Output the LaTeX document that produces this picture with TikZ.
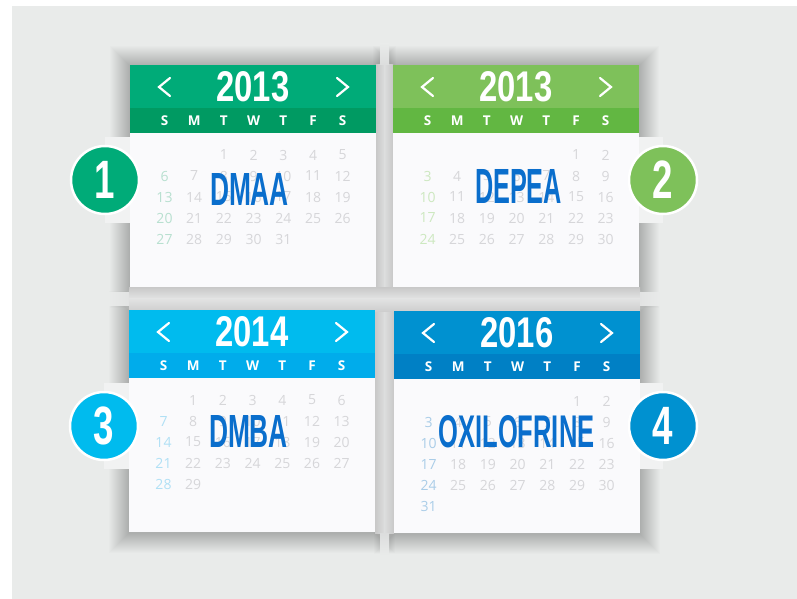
\documentclass[tikz,border=0pt]{standalone}
\usepackage{fontspec}
\usepackage{graphicx}
\setmainfont{Open Sans}
\newfontfamily\condfont{Liberation Sans}
\definecolor{bgc}{RGB}{233,235,234}
\definecolor{tabc}{RGB}{241,242,242}
\definecolor{bodyc}{RGB}{250,250,252}
\definecolor{numgray}{RGB}{214,214,217}
\definecolor{lblblue}{RGB}{10,110,204}
\definecolor{gEdge}{RGB}{200,200,200}
\definecolor{gEdgeB}{RGB}{206,206,206}
\definecolor{gMid}{RGB}{220,221,221}
\definecolor{gMidH}{RGB}{226,227,227}
\definecolor{hA}{RGB}{0,171,120}\definecolor{bA}{RGB}{0,154,98}\definecolor{wA}{RGB}{184,224,208}
\definecolor{hB}{RGB}{126,193,90}\definecolor{bB}{RGB}{98,183,66}\definecolor{wB}{RGB}{205,232,192}
\definecolor{hC}{RGB}{0,187,238}\definecolor{bC}{RGB}{0,172,235}\definecolor{wC}{RGB}{176,224,245}
\definecolor{hD}{RGB}{0,145,208}\definecolor{bD}{RGB}{0,128,197}\definecolor{wD}{RGB}{170,205,232}
\tikzset{
  yeartxt/.style={text=white,inner sep=0pt,font=\condfont\bfseries\fontsize{40}{40}\selectfont},
  chev/.style={draw=white,line width=2.2pt,line cap=round,line join=miter},
  dayname/.style={text=white,inner sep=0pt,font=\bfseries\fontsize{13.5}{14}\selectfont},
  num/.style={inner sep=0pt,font=\fontsize{14}{14}\selectfont},
  lbl/.style={text=lblblue,inner sep=0pt,font=\condfont\bfseries\fontsize{44}{44}\selectfont},
  badge/.style={circle,draw=white,line width=2.5pt,minimum size=68pt,inner sep=0pt,text=white,
    font=\condfont\bfseries\fontsize{54}{54}\selectfont},
}
% shadow of a calendar: X, Y
\newcommand\calshadow[2]{%
  \begin{scope}[shift={(#1,#2)}]
    \foreach \k in {1,...,20} {\fill[black,opacity=0.011] (-\k,-\k+1) rectangle (246+\k,222+\k+1);}
  \end{scope}}
% calendar: X, Y, year, id, start column, number of days, colour letter
\newcommand\calbody[7]{%
  \begin{scope}[shift={(#1,#2)}]
    \fill[bodyc] (0,0) rectangle (246,222);
    \fill[h#7] (0,0) rectangle (246,43);
    \fill[b#7] (0,43) rectangle (246,68);
    \node[yeartxt] (#4-year) at (123,22) {\resizebox{73pt}{30pt}{#3}};
    \coordinate (#4-l1) at (40,13); \coordinate (#4-l2) at (29,22); \coordinate (#4-l3) at (40,31);
    \coordinate (#4-r1) at (207,13); \coordinate (#4-r2) at (218,22); \coordinate (#4-r3) at (207,31);
    \draw[chev] (#4-l1) -- (#4-l2) -- (#4-l3);
    \draw[chev] (#4-r1) -- (#4-r2) -- (#4-r3);
    \foreach \n [count=\i from 0] in {S,M,T,W,T,F,S}
      \node[dayname] (#4-dn\i) at (34.5+29.7*\i,56) {\n};
    \foreach \d in {1,...,#6} {
      \pgfmathtruncatemacro\pp{\d-1+#5}
      \pgfmathtruncatemacro\cc{mod(\pp,7)}
      \pgfmathtruncatemacro\rr{floor(\pp/7)}
      \ifnum\cc=0 \def\nc{w#7}\else\def\nc{numgray}\fi
      \node[num,text=\nc] (#4-n\d) at (34.5+29.7*\cc,90+21*\rr) {\d};
    }
  \end{scope}}
\begin{document}
\begin{tikzpicture}[x=1pt,y=-1pt]
\useasboundingbox (0,0) rectangle (797,599);
\fill[bgc] (12,6) rectangle (797,599);
% shadows
\calshadow{130}{65}
\calshadow{393}{65}
\calshadow{129}{310}
\calshadow{394}{311}
% lighter shading in the gaps between the calendars
\shade[left color=gEdge,right color=gMid] (376,65) rectangle (384.5,287);
\shade[left color=gMid,right color=gEdge] (384.5,65) rectangle (393,287);
\shade[left color=gEdge,right color=gMid] (375,310) rectangle (384.5,533);
\shade[left color=gMid,right color=gEdge] (384.5,310) rectangle (394,533);
\shade[top color=gEdge,bottom color=gMidH] (129,287) rectangle (640,298.5);
\shade[top color=gMidH,bottom color=gEdgeB] (129,298.5) rectangle (640,311);
% ends of the gaps fade into the background
\shade[top color=bgc,bottom color=gMid] (380,44) rectangle (389,65);
\shade[top color=gMid,bottom color=bgc] (380,533) rectangle (389,555);
\shade[left color=bgc,right color=gMidH] (108,292) rectangle (129,305);
\shade[left color=gMidH,right color=bgc] (640,292) rectangle (661,305);
% calendars
\calbody{130}{65}{2013}{c1}{2}{31}{A}
\calbody{393}{65}{2013}{c2}{5}{30}{B}
\calbody{129}{310}{2014}{c3}{1}{29}{C}
\calbody{394}{311}{2016}{c4}{5}{31}{D}
% labels
\node[lbl] (l1) at (249.5,189) {\resizebox{79pt}{32pt}{DMAA}};
\node[lbl] (l2) at (518.5,186) {\resizebox{87pt}{34pt}{DEPEA}};
\node[lbl] (l3) at (248.5,431) {\resizebox{79pt}{32pt}{DMBA}};
\node[lbl] (l4) at (516.5,432) {\resizebox{156pt}{32pt}{OXILOFRINE}};
% tabs
\fill[tabc] (105,137) rectangle (130,223);
\fill[tabc] (639,137) rectangle (663,223);
\fill[tabc] (104,383) rectangle (129,469);
\fill[tabc] (640,383) rectangle (663,469);
% badges
\node[badge,fill=hA] (b1) at (105,180) {\scalebox{0.68}[1]{1}};
\node[badge,fill=hB] (b2) at (663,180) {\scalebox{0.68}[1]{2}};
\node[badge,fill=hC] (b3) at (104,426) {\scalebox{0.68}[1]{3}};
\node[badge,fill=hD] (b4) at (663,426) {\scalebox{0.68}[1]{4}};
\end{tikzpicture}
\end{document}
